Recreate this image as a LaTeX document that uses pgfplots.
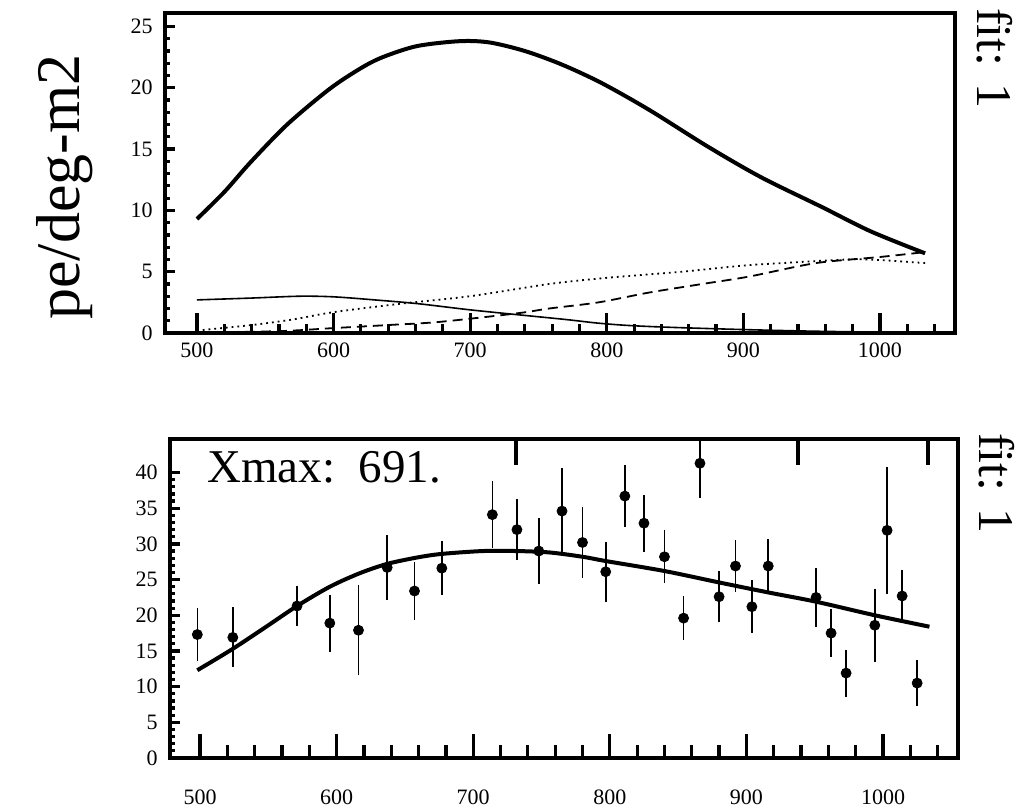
\documentclass[border=0pt]{standalone}
\usepackage{fontspec}
\setmainfont{Liberation Serif}
\usepackage{pgfplots}
\pgfplotsset{compat=1.18}

\pgfplotsset{
  panel/.style={
    scale only axis,
    axis line style={line width=2pt},
    tick align=inside,
    tick pos=left,
    tick style={line width=1.6pt, black},
    /pgf/number format/.cd, 1000 sep={}, assume math mode=true, /pgfplots/.cd,
    tick label style={font=\fontsize{11}{13}\selectfont},
  },
  xonly/.style={
    axis line style={draw=none},
    ytick=\empty,
  },
}

\begin{document}
\begin{tikzpicture}
\useasboundingbox (0pt,0pt) rectangle (509.5pt,-404.5pt);

% ---------- top panel ----------
\begin{axis}[panel, at={(82.5pt,-6.5pt)}, anchor=north west,
  width=395pt, height=160pt,
  xmin=476.6, xmax=1054.9, ymin=0, ymax=26.1,
  xtick=\empty,
  ytick={0,5,...,25}, minor y tick num=4,
  major tick length=5pt, minor tick length=2.5pt,
  yticklabel style={anchor=east, inner sep=0pt, xshift=-6pt},
]
% total fit
\addplot[black, line width=2pt, smooth] coordinates {
  (500,9.3) (520,11.5) (539,13.9) (566,17.0) (597,19.9) (620,21.6)
  (636,22.5) (661,23.4) (692,23.8) (714,23.7) (740,23.0) (767,21.9)
  (796,20.4) (831,18.2) (874,15.2) (913,12.7) (957,10.3) (993,8.3) (1033,6.5)
};
% thin solid component
\addplot[black, line width=0.8pt, smooth] coordinates {
  (500,2.7) (540,2.85) (575,3.0) (600,2.95) (630,2.7) (661,2.4) (699,1.9)
  (734,1.5) (770,1.1) (794,0.8) (818,0.6) (850,0.45) (900,0.28)
  (950,0.15) (1000,0.07) (1033,0.04)
};
% dotted component
\addplot[black, line width=0.9pt, dash pattern=on 0.9pt off 2pt, smooth] coordinates {
  (500,0.2) (540,0.65) (570,1.1) (600,1.7) (650,2.4) (700,3.0) (758,4.0)
  (800,4.5) (855,5.0) (900,5.5) (928,5.7) (977,6.0) (1000,5.95) (1033,5.7)
};
% dashed component
\addplot[black, line width=0.9pt, dash pattern=on 5pt off 3pt, smooth] coordinates {
  (500,0.05) (560,0.15) (600,0.4) (640,0.65) (677,0.9) (734,1.6) (758,2.0)
  (794,2.5) (831,3.3) (870,4.0) (904,4.6) (953,5.7) (1000,6.2) (1033,6.6)
};
\end{axis}
\begin{axis}[panel, xonly, at={(82.5pt,-6.5pt)}, anchor=north west,
  width=395pt, height=160pt,
  xmin=476.6, xmax=1054.9, ymin=0, ymax=26.1,
  xtick={500,600,...,1000},
  minor xtick={520,540,560,580,620,640,660,680,720,740,760,780,820,840,860,880,920,940,960,980,1020,1040},
  major tick length=10pt, minor tick length=4.5pt,
  xticklabel style={anchor=center, yshift=-8.5pt},
]
\end{axis}

% ---------- bottom panel ----------
\begin{axis}[panel, at={(85pt,-219.5pt)}, anchor=north west,
  width=394pt, height=159.5pt,
  xmin=478, xmax=1054.9, ymin=0, ymax=44.7,
  xtick=\empty,
  ytick={0,5,...,40}, minor y tick num=4,
  major tick length=5pt, minor tick length=2.5pt,
  yticklabel style={anchor=east, inner sep=0pt, xshift=-6pt},
]
\addplot[black, line width=2pt, smooth] coordinates {
  (498,12.3) (524,15.3) (550,18.6) (571,21.3) (595,24.0) (617,25.9)
  (637,27.2) (659,28.1) (677,28.6) (707,29.0) (732,29.0) (756,28.8)
  (780,28.2) (797,27.6) (840,26.2) (880,24.6) (916,23.2) (951,21.9)
  (994,20.0) (1034,18.4)
};
\addplot[black, only marks, mark=*, mark size=2.5pt,
  error bars/.cd, y dir=both, y explicit, error mark=none,
  error bar style={line width=0.8pt, black}]
  table[x=x, y=y, y error=e] {
x     y     e
498   17.3  3.7
524   16.9  4.2
571   21.3  2.8
595   18.9  4.0
616   17.9  6.3
637   26.7  4.5
657   23.4  4.0
677   26.6  3.8
714   34.1  4.7
732   32.0  4.3
748   29.0  4.6
765   34.6  6.0
780   30.2  5.0
797   26.1  4.2
811   36.7  4.3
825   32.9  4.0
840   28.2  3.7
854   19.6  3.1
866   41.3  4.9
880   22.6  3.6
892   26.9  3.7
904   21.2  3.7
916   26.9  3.8
951   22.5  4.1
962   17.5  3.4
973   11.9  3.3
994   18.6  5.1
1003  31.9  8.9
1014  22.7  3.6
1025  10.5  3.2
};
\draw[line width=2pt] (axis cs:731,44.7) -- ++(0pt,-13pt);
\draw[line width=2pt] (axis cs:938,44.7) -- ++(0pt,-13pt);
\draw[line width=2pt] (axis cs:1033,44.7) -- ++(0pt,-13pt);
\end{axis}
\begin{axis}[panel, xonly, at={(85pt,-219.5pt)}, anchor=north west,
  width=394pt, height=159.5pt,
  xmin=478, xmax=1054.9, ymin=0, ymax=44.7,
  xtick={500,600,...,1000},
  minor xtick={520,540,560,580,620,640,660,680,720,740,760,780,820,840,860,880,920,940,960,980,1020,1040},
  major tick length=12pt, minor tick length=6.5pt,
  xticklabel style={anchor=center, yshift=-19.5pt},
]
\end{axis}

% ---------- texts ----------
\node[rotate=90, font=\fontsize{31}{34}\selectfont] at (32.5pt,-93.5pt) {pe/deg-m2};
\node[rotate=-90, font=\fontsize{25}{28}\selectfont] at (497.5pt,-29pt) {fit: 1};
\node[rotate=-90, font=\fontsize{25}{28}\selectfont] at (498.5pt,-241.5pt) {fit: 1};
\node[anchor=base west, inner sep=0pt, font=\fontsize{23.5}{26}\selectfont] at (103.5pt,-241pt) {Xmax:\ \ 691.};
\end{tikzpicture}
\end{document}
